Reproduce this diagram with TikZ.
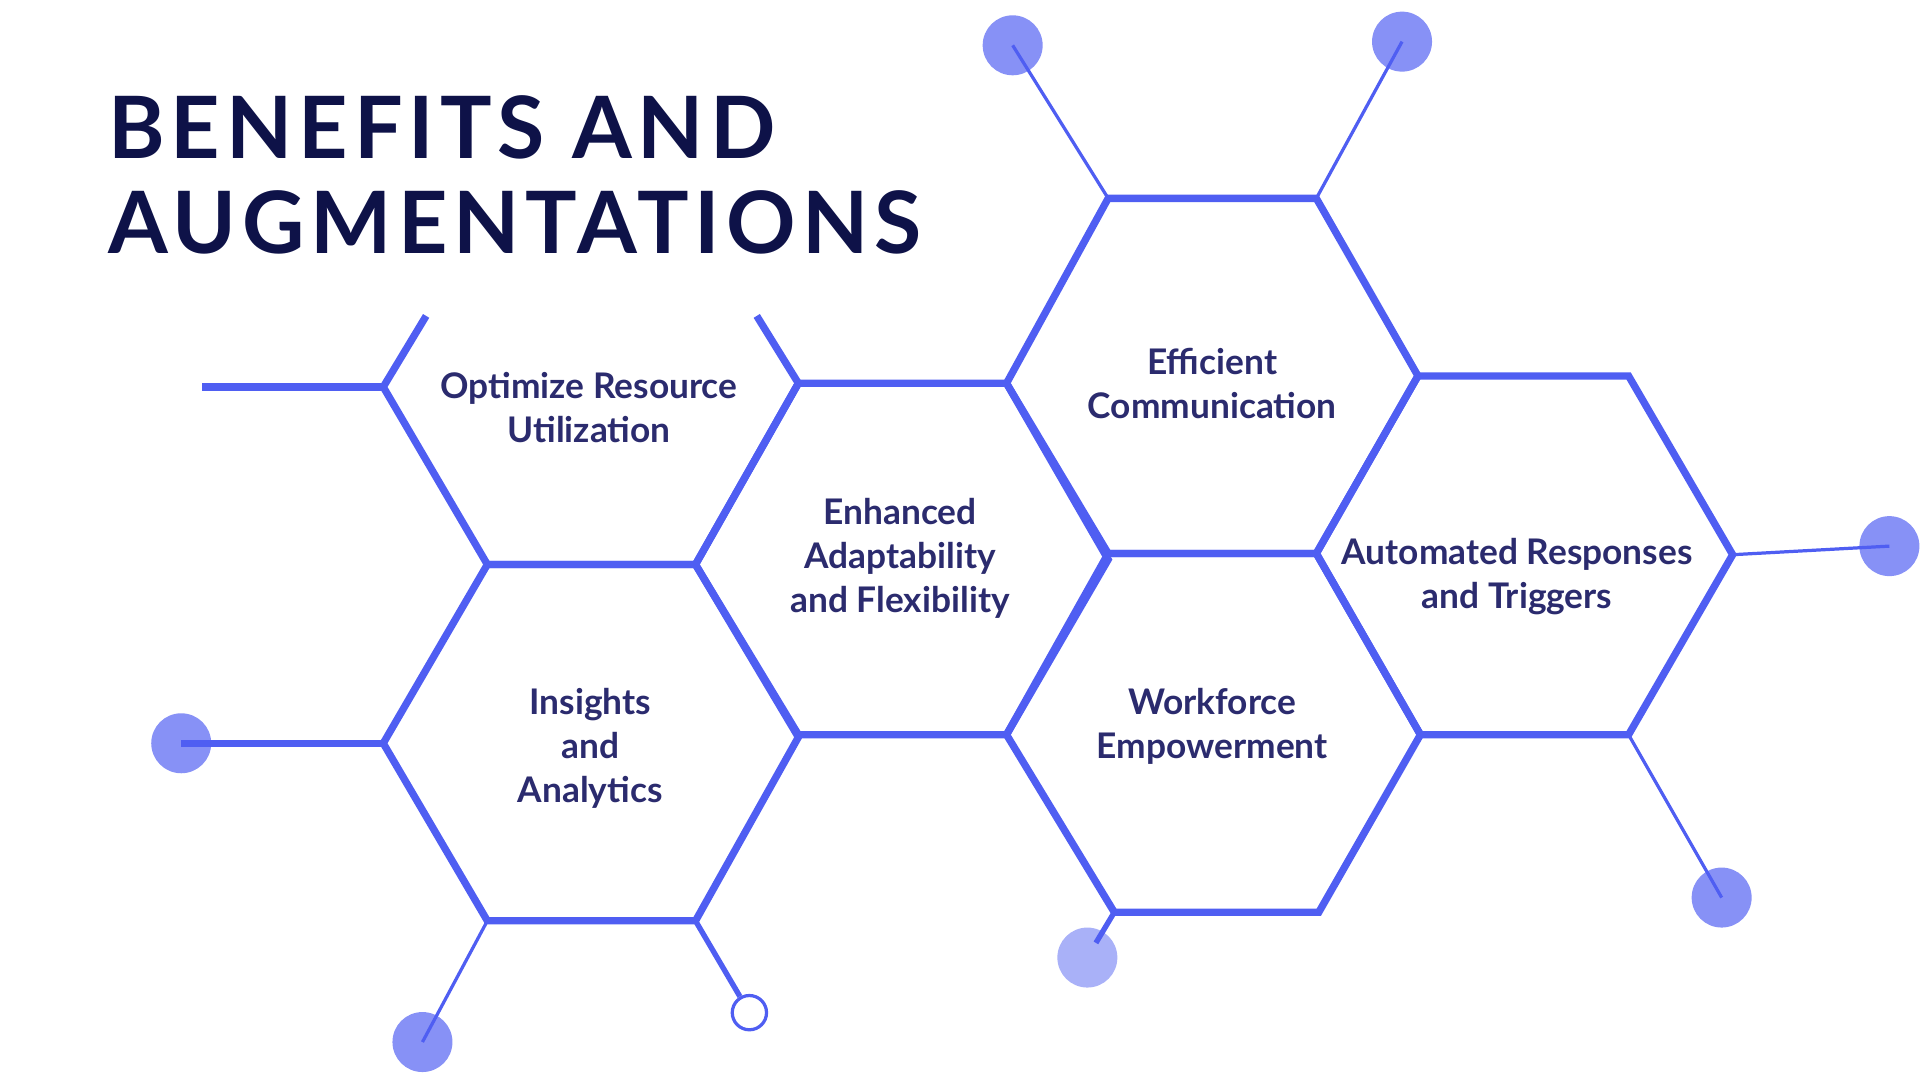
\documentclass[tikz,border=0pt]{standalone}
\usepackage{fontspec}
\setmainfont{Lato}
\newfontfamily\titlefont[LetterSpace=7]{Lato}
\definecolor{hexblue}{HTML}{4F5EF2}
\definecolor{dotblue}{HTML}{8791F6}
\definecolor{dotlight}{HTML}{A9B1F8}
\definecolor{labelnavy}{HTML}{2B2B6E}
\definecolor{titlenavy}{HTML}{0E1248}
\begin{document}
\begin{tikzpicture}[x=0.02cm,y=-0.02cm,
    hexline/.style={hexblue,line width=3.4pt,line join=miter},
    stem/.style={hexblue,line width=1.5pt},
    dot/.style={circle,fill=dotblue,minimum size=0.98cm,inner sep=0pt},
    label/.style={text=labelnavy,font=\fontsize{16.4}{20.5}\selectfont\bfseries,align=center}]
    \useasboundingbox (0,0) rectangle (1568,882);

    % titel
    \node[anchor=north west,text=titlenavy,font=\titlefont\fontsize{40}{44}\selectfont\bfseries,align=left]
        (title) at (82,72) {BENEFITS AND\\AUGMENTATIONS};

    % waben
    \draw[hexline] (348,258) -- (313,316) -- (398,461) -- (568,461) -- (652,313) -- (618,258);
    \draw[hexline] (165,316) -- (313,316);
    \draw[hexline] (313,607) -- (398,461) -- (568,461) -- (652,602) -- (568,752) -- (398,752) -- cycle;
    \draw[hexline] (652,313) -- (822,313) -- (905,457) -- (822,600) -- (652,600) -- (568,461) -- cycle;
    \draw[hexline] (905,162) -- (1075,162) -- (1158,307) -- (1075,452) -- (905,452) -- (822,313) -- cycle;
    \draw[hexline] (905,452) -- (1075,452) -- (1160,600) -- (1077,745) -- (910,745) -- (822,600) -- cycle;
    \draw[hexline] (1158,307) -- (1330,307) -- (1415,453) -- (1330,600) -- (1160,600) -- (1075,452) -- cycle;

    % punkte
    \node[dot] (d1) at (148,607) {};
    \node[dot] (d2) at (345,851) {};
    \node[circle,draw=hexblue,line width=1.5pt,fill=white,minimum size=0.56cm,inner sep=0pt] (d3) at (612,827) {};
    \node[dot] (d4) at (827,37) {};
    \node[dot] (d5) at (1145,34) {};
    \node[dot,fill=dotlight] (d6) at (888,782) {};
    \node[dot] (d7) at (1543,446) {};
    \node[dot] (d8) at (1406,733) {};

    \coordinate (s1) at (313,607);
    \coordinate (s2) at (398,752);
    \coordinate (s3) at (568,752);
    \coordinate (s4) at (905,162);
    \coordinate (s5) at (1075,162);
    \coordinate (s6) at (910,745);
    \coordinate (s7) at (1415,453);
    \coordinate (s8) at (1330,600);

    \draw[hexline] (s1) -- (d1.center);
    \draw[stem] (s2) -- (d2.center);
    \draw[hexline,line width=2.5pt] (s3) -- (d3);
    \draw[stem] (s4) -- (d4.center);
    \draw[stem] (s5) -- (d5.center);
    \draw[hexline,line width=2.5pt] (s6) -- (895,770);
    \draw[stem] (s7) -- (d7.center);
    \draw[stem] (s8) -- (d8.center);

    % texte
    \node[label] (opt) at (481,333) {Optimize Resource\\Utilization};
    \node[label] (ins) at (482,611) {Insights\\and\\Analytics};
    \node[label] (enh) at (735,456) {Enhanced\\Adaptability\\and Flexibility};
    \node[label] (eff) at (990,313) {Efficient\\Communication};
    \node[label] (wor) at (990,593) {Workforce\\Empowerment};
    \node[label] (aut) at (1239,471) {Automated Responses\\and Triggers};
\end{tikzpicture}
\end{document}
